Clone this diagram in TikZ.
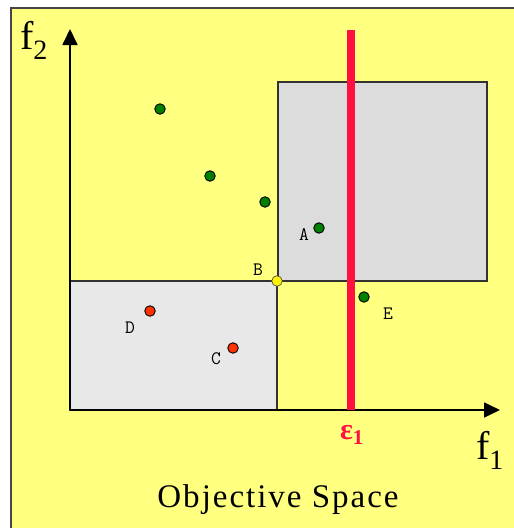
\documentclass[tikz,border=0pt]{standalone}
\usepackage{fontspec}
\setmainfont{Liberation Serif}
\newfontfamily\titlefont[LetterSpace=6]{Liberation Serif}
\usetikzlibrary{arrows.meta}
\definecolor{bgyellow}{RGB}{255,255,128}
\definecolor{boxlow}{RGB}{232,232,232}
\definecolor{boxhigh}{RGB}{220,220,220}
\definecolor{epsred}{RGB}{255,16,64}
\definecolor{ptgreen}{RGB}{0,128,0}
\definecolor{ptred}{RGB}{255,51,0}
\tikzset{
  frame/.style={draw={rgb,255:red,70;green,70;blue,70}, line width=2.4pt, fill=bgyellow},
  regionbox/.style={draw={rgb,255:red,50;green,50;blue,50}, line width=1.8pt},
  axis/.style={draw=black, line width=1.8pt, -{Triangle[length=16pt,width=15pt]}},
  epsline/.style={draw=epsred, line width=7.5pt},
  gpt/.style={circle, draw=black, line width=0.9pt, fill=ptgreen, minimum size=10.5pt, inner sep=0pt},
  rpt/.style={circle, draw=black, line width=0.9pt, fill=ptred, minimum size=10.5pt, inner sep=0pt},
  ypt/.style={circle, draw=black!70, line width=0.7pt, fill=yellow, minimum size=10.5pt, inner sep=0pt},
  ptlabel/.style={font=\ttfamily\fontsize{19}{19}\selectfont, inner sep=0pt},
  axlabel/.style={font=\fontsize{40}{40}\selectfont, inner sep=0pt},
}
\begin{document}
\begin{tikzpicture}[x=1pt,y=-1pt]
\useasboundingbox (0,0) rectangle (514,528);
\path[frame] (11,8) rectangle (530,540);
% boxes
\path[regionbox, fill=boxlow] (70,281) rectangle (277,410);
\path[regionbox, fill=boxhigh] (278,82) rectangle (487,281);
% axes
\coordinate (O) at (70,410);
\coordinate (ytop) at (70,29);
\coordinate (xend) at (500,410);
\draw[axis] (O) -- (ytop);
\draw[axis] (O) -- (xend);
% epsilon line
\coordinate (etop) at (351,30);
\coordinate (ebot) at (351,410);
\draw[epsline] (etop) -- (ebot);
% points
\node[gpt] (p1) at (160,109) {};
\node[gpt] (p2) at (210,176) {};
\node[gpt] (p3) at (265,202) {};
\node[gpt] (pA) at (319,228) {};
\node[gpt] (pE) at (364,297) {};
\node[rpt] (pD) at (150,311) {};
\node[rpt] (pC) at (233,348) {};
\node[ypt] (pB) at (277,281) {};
% labels
\node[ptlabel] (lA) at (304,235) {A};
\node[ptlabel] (lB) at (258,270) {B};
\node[ptlabel] (lC) at (216,359) {C};
\node[ptlabel] (lD) at (130,328) {D};
\node[ptlabel] (lE) at (388,314) {E};
\node[axlabel] (f2) at (34,40) {f\textsubscript{2}};
\node[axlabel] (f1) at (490,450) {f\textsubscript{1}};
\node[font=\bfseries\fontsize{30}{30}\selectfont, text=epsred, inner sep=0pt] (eps) at (352,435) {ε\textsubscript{1}};
\node[font=\titlefont\fontsize{33}{33}\selectfont, inner sep=0pt] (title) at (278,500) {Objective Space};
\end{tikzpicture}
\end{document}
